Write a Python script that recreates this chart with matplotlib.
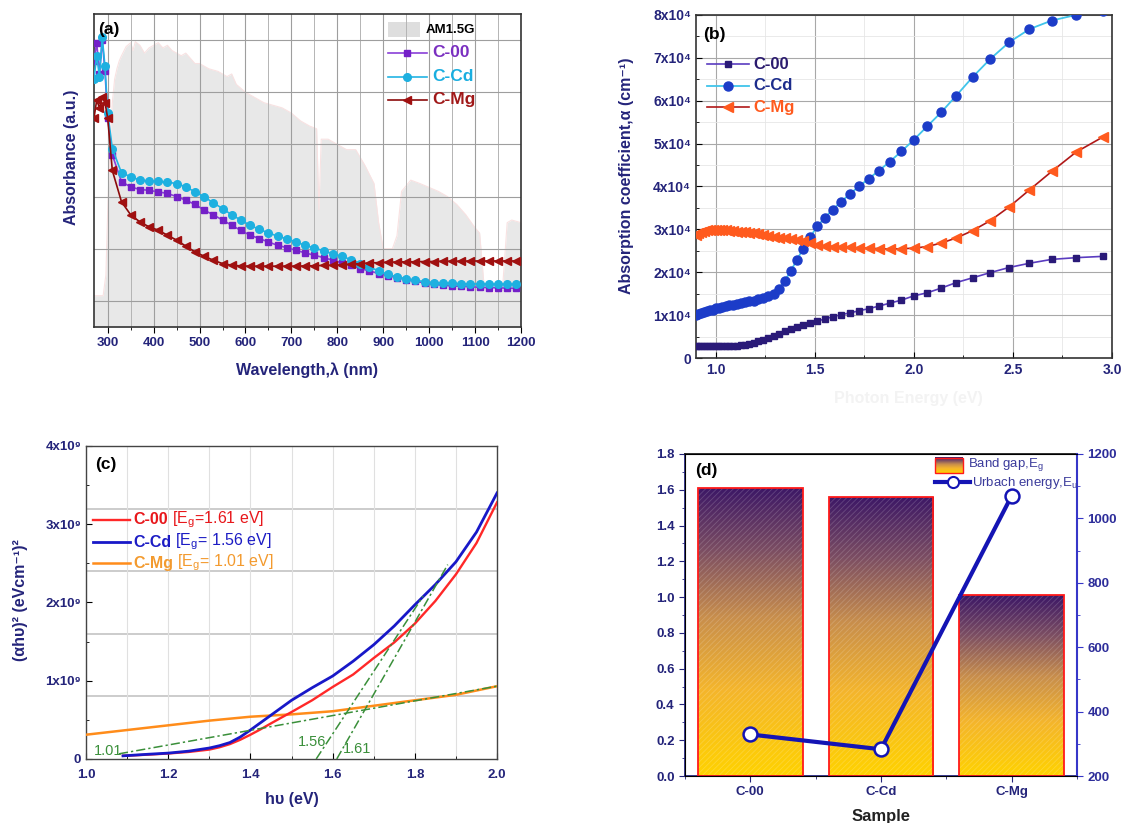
import numpy as np
import matplotlib.pyplot as plt
from matplotlib.colors import LinearSegmentedColormap
from matplotlib.patches import Rectangle
from matplotlib.ticker import MultipleLocator, FuncFormatter

plt.rcParams['font.family'] = ['Liberation Sans', 'DejaVu Sans']
plt.rcParams['mathtext.fontset'] = 'custom'
plt.rcParams['mathtext.rm'] = 'Liberation Sans'
plt.rcParams['mathtext.it'] = 'Liberation Sans:italic'
plt.rcParams['mathtext.default'] = 'regular'
plt.rcParams['hatch.linewidth'] = 0.6

NAVY = '#24247a'

# ---------------- data (a): absorbance + AM1.5G
wl_a = [270, 276, 282, 288, 294, 300] + list(range(310, 1200, 20))
abs_c00 = [1.02, 1.09, 0.97, 1.10, 0.98, 0.80,
           0.66, 0.557, 0.537, 0.527, 0.524, 0.518, 0.512, 0.50, 0.486, 0.47,
           0.448, 0.43, 0.41, 0.39, 0.37, 0.352, 0.339, 0.326, 0.313, 0.304,
           0.294, 0.284, 0.275, 0.266, 0.256, 0.246, 0.237, 0.224, 0.215, 0.205,
           0.197, 0.189, 0.182, 0.175, 0.169, 0.164, 0.16, 0.157, 0.156, 0.154,
           0.152, 0.151, 0.150, 0.149, 0.148]
abs_ccd = [0.95, 1.04, 0.96, 1.11, 1.00, 0.82,
           0.684, 0.591, 0.576, 0.563, 0.56, 0.558, 0.555, 0.55, 0.537, 0.518,
           0.499, 0.476, 0.454, 0.43, 0.41, 0.39, 0.374, 0.361, 0.348, 0.338,
           0.326, 0.313, 0.303, 0.292, 0.281, 0.271, 0.258, 0.243, 0.23, 0.215,
           0.202, 0.192, 0.185, 0.179, 0.174, 0.17, 0.168, 0.167, 0.166, 0.165,
           0.165, 0.164, 0.164, 0.164, 0.164]
abs_cmg = [0.80, 0.87, 0.84, 0.88, 0.86, 0.80,
           0.60, 0.48, 0.43, 0.403, 0.384, 0.371, 0.352, 0.333, 0.31, 0.288,
           0.271, 0.256, 0.243, 0.237, 0.234, 0.233, 0.233, 0.233, 0.233, 0.233,
           0.233, 0.234, 0.235, 0.236, 0.237, 0.238, 0.24, 0.243, 0.245, 0.247,
           0.248, 0.249, 0.25, 0.25, 0.251, 0.251, 0.252, 0.252, 0.252, 0.253,
           0.253, 0.253, 0.253, 0.253, 0.253]

am_wl = [270, 290, 296, 300, 305, 310, 315, 320, 325, 330, 340, 350, 355, 360, 370,
         380, 390, 400, 410, 420, 430, 440, 450, 460, 470, 480, 490, 500, 520,
         540, 560, 570, 580, 600, 620, 640, 660, 680, 700, 720, 740, 755, 760,
         765, 780, 800, 820, 840, 860, 880, 890, 900, 920, 930, 940, 960, 980,
         1000, 1020, 1040, 1060, 1080, 1100, 1110, 1120, 1140, 1160, 1170, 1180, 1200]
am_val = [0.12, 0.12, 0.2, 0.45, 0.7, 0.86, 0.95, 0.99, 1.02, 1.04, 1.075, 1.09, 1.06, 1.094, 1.08,
          1.05, 1.07, 1.08, 1.09, 1.07, 1.08, 1.06, 1.05, 1.04, 1.05, 1.03, 1.01, 1.01, 0.99,
          0.98, 0.96, 0.97, 0.93, 0.90, 0.88, 0.86, 0.85, 0.84, 0.82, 0.79, 0.77, 0.76, 0.45,
          0.72, 0.72, 0.70, 0.68, 0.68, 0.62, 0.55, 0.40, 0.30, 0.30, 0.35, 0.52, 0.563, 0.55,
          0.535, 0.52, 0.50, 0.47, 0.43, 0.38, 0.36, 0.15, 0.13, 0.15, 0.40, 0.41, 0.40]

# ---------------- data (b): absorption coefficient (x1e4 cm-1)
wl_b = np.array(range(1380, 419, -20))
alpha_c00 = [0.27, 0.27, 0.27, 0.27, 0.27, 0.27, 0.27, 0.27, 0.27, 0.275,
             0.28, 0.28, 0.285, 0.29, 0.30, 0.31, 0.33, 0.36, 0.39, 0.42,
             0.46, 0.51, 0.56, 0.62, 0.67, 0.72, 0.77, 0.82, 0.86, 0.91,
             0.96, 1.01, 1.05, 1.10, 1.15, 1.21, 1.28, 1.35, 1.45, 1.52,
             1.63, 1.76, 1.87, 1.99, 2.11, 2.21, 2.30, 2.34, 2.37]
alpha_ccd = [1.01, 1.03, 1.05, 1.07, 1.09, 1.11, 1.13, 1.16, 1.17, 1.19,
             1.21, 1.23, 1.24, 1.26, 1.28, 1.30, 1.32, 1.34, 1.37, 1.40,
             1.44, 1.50, 1.62, 1.80, 2.02, 2.29, 2.55, 2.82, 3.07, 3.27,
             3.46, 3.64, 3.82, 4.0, 4.18, 4.37, 4.58, 4.82, 5.09, 5.40,
             5.73, 6.12, 6.55, 6.97, 7.36, 7.67, 7.87, 8.0, 8.1]
alpha_cmg = [2.87, 2.92, 2.95, 2.97, 2.98, 2.99, 2.99, 2.99, 2.99, 2.99,
             2.98, 2.97, 2.96, 2.95, 2.94, 2.93, 2.92, 2.91, 2.89, 2.87,
             2.85, 2.83, 2.81, 2.79, 2.77, 2.76, 2.73, 2.68, 2.63, 2.61,
             2.60, 2.59, 2.58, 2.57, 2.56, 2.55, 2.54, 2.55, 2.56, 2.60,
             2.68, 2.80, 2.97, 3.20, 3.52, 3.92, 4.35, 4.80, 5.15]

# ---------------- data (c): Tauc plot (x1e9)
hv_c = [1.09, 1.15, 1.2, 1.25, 1.3, 1.325, 1.35, 1.375, 1.4, 1.425, 1.45, 1.475, 1.5,
        1.55, 1.6, 1.65, 1.7, 1.75, 1.8, 1.85, 1.9, 1.95, 2.0]
tauc_c00 = [0.04, 0.055, 0.07, 0.09, 0.12, 0.15, 0.19, 0.245, 0.31, 0.38, 0.455, 0.528, 0.60,
            0.75, 0.92, 1.08, 1.29, 1.49, 1.73, 2.02, 2.36, 2.76, 3.28]
tauc_ccd = [0.04, 0.06, 0.075, 0.10, 0.14, 0.17, 0.21, 0.28, 0.37, 0.465, 0.56, 0.655, 0.75,
            0.91, 1.06, 1.25, 1.46, 1.70, 1.97, 2.23, 2.52, 2.90, 3.40]
hv_mg = [1.0, 1.1, 1.2, 1.3, 1.4, 1.5, 1.6, 1.7, 1.8, 1.9, 2.0]
tauc_cmg = [0.31, 0.37, 0.43, 0.49, 0.54, 0.57, 0.61, 0.68, 0.75, 0.82, 0.93]
eg_fit = [1.61, 1.56, 1.01]          # x intercepts of the linear fits
slope_fit = [9.2, 8.0, 0.94]         # 1e9 per eV
fit_start = [1.61, 1.56, 1.08]
fit_end = [1.88, 1.82, 2.0]

# ---------------- data (d): band gap + Urbach energy
samples = ['C-00', 'C-Cd', 'C-Mg']
band_gap = [1.61, 1.56, 1.01]
urbach = [329, 283, 1070]

fig = plt.figure(figsize=(11.32, 8.23), dpi=100)


def style_ticks(ax, color=NAVY, size=9):
    for lab in ax.get_xticklabels() + ax.get_yticklabels():
        lab.set_fontweight('bold')
    ax.tick_params(labelsize=size, labelcolor=color)


def legend_row(ax, x0, x1, y, color, label, tcolor, fs, **kw):
    ax.plot([x0, (x0 + x1) / 2, x1], [y, y, y], transform=ax.transAxes, color=color,
            markevery=[1], clip_on=False, **kw)
    ax.text(x1 + 0.012, y, label, transform=ax.transAxes, color=tcolor, fontsize=fs,
            fontweight='bold', va='center')


# ======================= (a)
ax_a = fig.add_axes([0.0830, 0.6027, 0.3772, 0.3803])
ax_a.fill_between(am_wl, am_val, color='#e8e8e8', lw=0, zorder=1)
ax_a.plot(am_wl, am_val, color='#f8e2e2', lw=0.8, zorder=1.1)
ax_a.plot(wl_a, abs_c00, color='#8a3fd8', lw=1.2, marker='s', ms=4.5,
          mfc='#7420c8', mec='#7420c8', zorder=3)
ax_a.plot(wl_a, abs_ccd, color='#22b4e4', lw=1.2, marker='o', ms=5.5,
          mfc='#1eb0e0', mec='#1eb0e0', zorder=3)
ax_a.plot(wl_a, abs_cmg, color='#8b0a0a', lw=1.2, marker='<', ms=5.5,
          mfc='#a01010', mec='#a01010', zorder=4)
ax_a.set_xlim(270, 1200)
ax_a.set_ylim(0, 1.2)
ax_a.xaxis.set_major_locator(MultipleLocator(100))
ax_a.xaxis.set_minor_locator(MultipleLocator(50))
ax_a.set_yticks(np.arange(0.1, 1.2, 0.2))
ax_a.tick_params(axis='y', left=False, labelleft=False)
ax_a.tick_params(axis='x', which='major', direction='out', length=4)
ax_a.tick_params(axis='x', which='minor', direction='out', length=2.5)
ax_a.grid(which='major', color='#9e9e9e', lw=0.8)
ax_a.grid(which='minor', axis='x', color='#b4b4b4', lw=0.7)
for s in ax_a.spines.values():
    s.set_color('#333333')
    s.set_linewidth(1.2)
style_ticks(ax_a, size=9.5)
ax_a.set_xlabel('Wavelength,λ (nm)', fontsize=11.5, fontweight='bold', color=NAVY, va='center')
ax_a.xaxis.set_label_coords(0.5, -0.137)
ax_a.set_ylabel('Absorbance (a.u.)', fontsize=11.5, fontweight='bold', color=NAVY, va='center')
ax_a.yaxis.set_label_coords(-0.0515, 0.543)
ax_a.text(0.01, 0.952, '(a)', transform=ax_a.transAxes, fontsize=12.5, fontweight='bold',
          va='center')
ax_a.add_patch(Rectangle((0.6885, 0.9265), 0.075, 0.048, transform=ax_a.transAxes,
                         facecolor='#dedede', edgecolor='none', clip_on=False))
ax_a.text(0.7775, 0.950, 'AM1.5G', transform=ax_a.transAxes, fontsize=9.5,
          fontweight='bold', va='center')
legend_row(ax_a, 0.6885, 0.78, 0.8754, '#8a3fd8', 'C-00', '#7a2fc0', 12.5,
           lw=1.2, marker='s', ms=4.5, mfc='#7420c8', mec='#7420c8')
legend_row(ax_a, 0.6885, 0.78, 0.7987, '#22b4e4', 'C-Cd', '#19aee0', 12.5,
           lw=1.2, marker='o', ms=5.5, mfc='#1eb0e0', mec='#1eb0e0')
legend_row(ax_a, 0.6885, 0.78, 0.7252, '#8b0a0a', 'C-Mg', '#a01818', 12.5,
           lw=1.2, marker='<', ms=5.5, mfc='#a01010', mec='#a01010')

# ======================= (b)
ax_b = fig.add_axes([0.6148, 0.565, 0.3675, 0.4168])
e_b = 1240.0 / wl_b
ax_b.plot(e_b, alpha_c00, color='#5a3cc0', lw=1.2, marker='s', ms=5,
          mfc='#2a1a78', mec='#2a1a78', zorder=3)
ax_b.plot(e_b, alpha_ccd, color='#40c4ea', lw=1.3, marker='o', ms=6.5,
          mfc='#1c3cc8', mec='#1c3cc8', zorder=3)
ax_b.plot(e_b, alpha_cmg, color='#b01818', lw=1.2, marker='<', ms=6.5,
          mfc='#ff5a1e', mec='#ff5a1e', zorder=3)
ax_b.set_xlim(0.9, 3.0)
ax_b.set_ylim(0, 8)
ax_b.xaxis.set_major_locator(MultipleLocator(0.5))
ax_b.xaxis.set_minor_locator(MultipleLocator(0.25))
ax_b.yaxis.set_major_locator(MultipleLocator(1))
ax_b.yaxis.set_minor_locator(MultipleLocator(0.5))
ax_b.xaxis.set_major_formatter(FuncFormatter(lambda v, p: f'{v:.1f}'))
ax_b.yaxis.set_major_formatter(FuncFormatter(lambda v, p: '0' if v == 0 else f'{int(v)}x10⁴'))
ax_b.tick_params(which='both', direction='in')
ax_b.tick_params(which='major', length=4)
ax_b.tick_params(which='minor', length=2.5)
ax_b.grid(which='major', color='#a8a8a8', lw=0.8)
ax_b.grid(which='minor', color='#e6e6e6', lw=0.6)
for s in ax_b.spines.values():
    s.set_color('#333333')
    s.set_linewidth(1.2)
style_ticks(ax_b, size=10)
ax_b.set_ylabel('Absorption coefficient,α (cm⁻¹)', fontsize=11.5, fontweight='bold',
                color=NAVY, va='center')
ax_b.yaxis.set_label_coords(-0.166, 0.531)
ax_b.set_xlabel('Photon Energy (eV)', fontsize=11.5, fontweight='bold', color='#f3f3f3',
                va='center')
ax_b.xaxis.set_label_coords(0.51, -0.117)
ax_b.text(0.017, 0.942, '(b)', transform=ax_b.transAxes, fontsize=12.5, fontweight='bold',
          va='center')
legend_row(ax_b, 0.027, 0.127, 0.856, '#5a3cc0', 'C-00', '#2a1a6e', 12,
           lw=1.2, marker='s', ms=5, mfc='#2a1a78', mec='#2a1a78')
legend_row(ax_b, 0.027, 0.127, 0.793, '#40c4ea', 'C-Cd', '#1c2c8c', 12,
           lw=1.3, marker='o', ms=6.5, mfc='#1c3cc8', mec='#1c3cc8')
legend_row(ax_b, 0.027, 0.127, 0.731, '#b01818', 'C-Mg', '#ff5a1e', 12,
           lw=1.2, marker='<', ms=6.5, mfc='#ff5a1e', mec='#ff5a1e')

# ======================= (c)
ax_c = fig.add_axes([0.0760, 0.0778, 0.3631, 0.3803])
for yv in [0.8, 1.6, 2.4, 3.2]:
    ax_c.axhline(yv, color='#c4c4c4', lw=1.2, zorder=1)
ax_c.plot(hv_mg, tauc_cmg, color='#ff8c1a', lw=1.8, zorder=3)
ax_c.plot(hv_c, tauc_c00, color='#ff2828', lw=1.7, zorder=3)
ax_c.plot(hv_c, tauc_ccd, color='#1818c8', lw=2.0, zorder=3)
for eg, k, x0, x1 in zip(eg_fit, slope_fit, fit_start, fit_end):
    xs = np.array([x0, x1])
    ax_c.plot(xs, k * (xs - eg), color='#3a8f3a', lw=1.1, ls=(0, (6, 2, 1.5, 2)), zorder=4)
ax_c.text(1.02, 0.05, '1.01', color='#3a8f3a', fontsize=10.5)
ax_c.text(1.515, 0.16, '1.56', color='#3a8f3a', fontsize=10.5)
ax_c.text(1.625, 0.07, '1.61', color='#3a8f3a', fontsize=10.5)
ax_c.set_xlim(1.0, 2.0)
ax_c.set_ylim(0, 4)
ax_c.xaxis.set_major_locator(MultipleLocator(0.2))
ax_c.xaxis.set_minor_locator(MultipleLocator(0.1))
ax_c.yaxis.set_major_locator(MultipleLocator(1))
ax_c.yaxis.set_minor_locator(MultipleLocator(0.5))
ax_c.xaxis.set_major_formatter(FuncFormatter(lambda v, p: f'{v:.1f}'))
ax_c.yaxis.set_major_formatter(FuncFormatter(lambda v, p: '0' if v == 0 else f'{int(v)}x10⁹'))
ax_c.tick_params(which='both', direction='in')
ax_c.tick_params(which='major', length=4)
ax_c.tick_params(which='minor', length=2.5)
ax_c.tick_params(axis='x', pad=7)
ax_c.grid(which='both', axis='x', color='#e0e0e0', lw=0.8)
for s in ax_c.spines.values():
    s.set_color('#444444')
    s.set_linewidth(1.0)
style_ticks(ax_c, size=9.5)
ax_c.set_xlabel('hυ (eV)', fontsize=11.5, fontweight='bold', color=NAVY, va='center')
ax_c.xaxis.set_label_coords(0.5, -0.131)
ax_c.set_ylabel('(αhυ)² (eVcm⁻¹)²', fontsize=11.5, fontweight='bold', color=NAVY, va='center')
ax_c.yaxis.set_label_coords(-0.159, 0.508)
ax_c.text(0.022, 0.942, '(c)', transform=ax_c.transAxes, fontsize=12.5, fontweight='bold',
          va='center')
leg_c = [(0.7636, '#ff2828', 1.7, 'C-00', ' [E$_g$=1.61 eV]', '#e8171b'),
         (0.6930, '#1818c8', 2.0, 'C-Cd', ' [E$_g$= 1.56 eV]', '#1c1cc4'),
         (0.6260, '#ff8c1a', 1.8, 'C-Mg', ' [E$_g$= 1.01 eV]', '#f39a2e')]
for y, lc, lw, name, rest, tc in leg_c:
    ax_c.plot([0.017, 0.107], [y, y], transform=ax_c.transAxes, color=lc, lw=lw)
    t = ax_c.text(0.114, y, name, transform=ax_c.transAxes, color=tc, fontsize=11.5,
                  fontweight='bold', va='center')
    ax_c.annotate(rest, xy=(1, 0.5), xycoords=t, va='center', ha='left', color=tc,
                  fontsize=11.5)

# ======================= (d)
ax_d = fig.add_axes([0.6051, 0.0571, 0.3463, 0.3913])
gap_cmap = LinearSegmentedColormap.from_list(
    'gap', [(0, '#ffd200'), (0.3, '#f4b52c'), (0.55, '#c88e4c'), (0.78, '#7c4e62'), (1, '#3c1766')])
grad = np.linspace(0, 1, 256).reshape(-1, 1)
xpos = np.arange(len(samples))
bars = ax_d.bar(xpos, band_gap, width=0.8, facecolor='none', edgecolor='#ff1a1a', lw=1.3, zorder=3)
for b in bars:
    im = ax_d.imshow(grad, extent=[b.get_x(), b.get_x() + b.get_width(), 0, b.get_height()],
                     origin='lower', aspect='auto', cmap=gap_cmap, zorder=1)
    im.set_clip_path(b)
ax_d.bar(xpos, band_gap, width=0.8, facecolor='none', edgecolor=(1, 1, 1, 0.18),
         hatch='//////', lw=0, zorder=2)
ax_d.set_xlim(-0.5, 2.5)
ax_d.set_ylim(0, 1.8)
ax_d.set_xticks(xpos)
ax_d.set_xticklabels(samples)
ax_d.xaxis.set_minor_locator(MultipleLocator(0.5))
ax_d.yaxis.set_major_locator(MultipleLocator(0.2))
ax_d.yaxis.set_minor_locator(MultipleLocator(0.1))
ax_d.yaxis.set_major_formatter(FuncFormatter(lambda v, p: f'{v:.1f}'))
ax_d.tick_params(which='both', direction='out', color=NAVY)
ax_d.tick_params(which='major', length=4)
ax_d.tick_params(which='minor', length=2.5)
ax_d.spines['left'].set_color('#2a2a88')
ax_d.spines['bottom'].set_color('#2a2a88')
ax_d.spines['top'].set_color('#222222')
for s in ax_d.spines.values():
    s.set_linewidth(1.3)
style_ticks(ax_d, size=9.5)
ax_d.set_xlabel('Sample', fontsize=12, fontweight='bold', color='#222222', va='center')
ax_d.xaxis.set_label_coords(0.5, -0.127)
ax_d.text(0.027, 0.95, '(d)', transform=ax_d.transAxes, fontsize=12.5, fontweight='bold',
          va='center')

ax_u = ax_d.twinx()
ax_u.plot(xpos, urbach, color='#1414b4', lw=3, marker='o', ms=10, mfc='white',
          mec='#1414b4', mew=1.8, zorder=5)
ax_u.set_ylim(200, 1200)
ax_u.yaxis.set_major_locator(MultipleLocator(200))
ax_u.yaxis.set_minor_locator(MultipleLocator(100))
ax_u.tick_params(which='both', direction='out', color='#3636c8')
ax_u.tick_params(which='major', length=4)
ax_u.tick_params(which='minor', length=2.5)
ax_u.spines['right'].set_color('#3636c8')
ax_u.spines['right'].set_linewidth(1.5)
for lab in ax_u.get_yticklabels():
    lab.set_fontweight('bold')
ax_u.tick_params(labelsize=9.5, labelcolor='#2d2d9a')

# legend of (d)
im = ax_u.imshow(grad, extent=[0.638, 0.709, 0.941, 0.988], transform=ax_u.transAxes,
                 origin='lower', aspect='auto', cmap=gap_cmap, zorder=6)
ax_u.add_patch(Rectangle((0.638, 0.941), 0.071, 0.047, transform=ax_u.transAxes,
                         facecolor='none', edgecolor='#ff1a1a', lw=1.0, zorder=7))
ax_u.text(0.722, 0.966, 'Band gap,E$_g$', transform=ax_u.transAxes, color='#3b3b9b',
          fontsize=9.5, va='center')
ax_u.plot([0.638, 0.683, 0.727], [0.912] * 3, transform=ax_u.transAxes, color='#1414b4',
          lw=3, marker='o', ms=8, mfc='white', mec='#1414b4', mew=1.5, markevery=[1],
          clip_on=False, zorder=6)
ax_u.text(0.732, 0.910, 'Urbach energy,E$_u$', transform=ax_u.transAxes, color='#3b3b9b',
          fontsize=9.5, va='center')
ax_u.set_xlim(-0.5, 2.5)
ax_u.set_ylim(200, 1200)

fig.savefig('out.png', dpi=100)
